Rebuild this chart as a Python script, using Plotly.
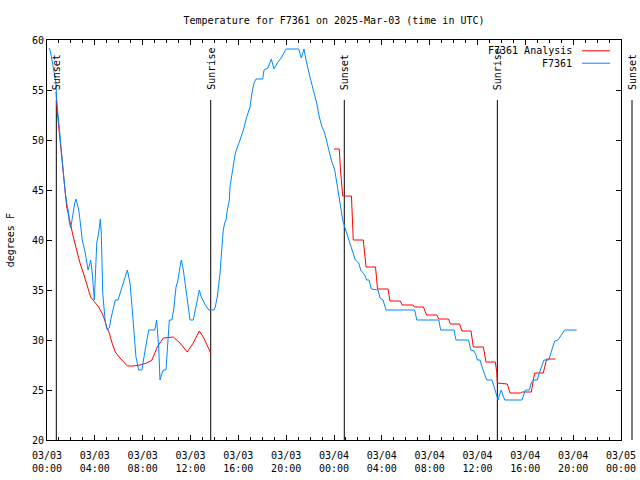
import pandas as pd
import plotly.graph_objects as go

# ---- data (hours after 2025-03-03 00:00 UTC, degrees F) ----
obs_hours = [0.17, 0.25, 0.42, 0.59, 0.75, 0.81, 0.98, 1.09, 1.20, 1.31, 1.42, 1.53, 1.65, 1.81, 1.86, 1.98,
             2.09, 2.20, 2.32, 2.43, 2.53, 2.65, 2.76, 2.87, 2.95, 3.20, 3.43, 3.49, 3.65, 3.76, 3.87, 3.96,
             4.16, 4.32, 4.46, 4.54, 4.66, 4.77, 4.88, 5.04, 5.21, 5.38, 5.54, 5.71, 5.94, 6.10, 6.38, 6.72,
             6.94, 7.11, 7.28, 7.44, 7.67, 7.94, 8.11, 8.28, 8.50, 9.01, 9.17, 9.34, 9.45, 9.62, 9.73, 9.95,
             10.06, 10.23, 10.45, 10.62, 10.79, 10.95, 11.12, 11.23, 11.40, 11.57, 11.79, 11.96, 12.23, 12.40,
             12.57, 12.74, 12.90, 13.07, 13.24, 13.41, 13.52, 13.97, 14.07, 14.24, 14.36, 14.47, 14.53, 14.63,
             14.74, 14.86, 14.97, 15.08, 15.25, 15.30, 15.58, 15.75, 16.14, 16.42, 16.70, 16.98, 17.14, 17.31,
             17.48, 18.04, 18.15, 18.48, 18.76, 18.98, 19.26, 19.63, 19.99, 21.05, 21.27, 21.49, 21.66, 21.83,
             21.99, 22.27, 22.55, 22.77, 23.00, 23.22, 23.50, 23.77, 24.06, 24.23, 24.39, 24.56, 24.73, 24.90,
             25.06, 25.34, 25.56, 25.78, 26.07, 26.23, 26.57, 26.73, 26.93, 27.12, 27.68, 27.85, 28.10, 28.35,
             30.75, 30.92, 32.76, 32.92, 34.04, 34.20, 35.26, 35.43, 35.71, 35.88, 35.98, 36.21, 36.38, 36.54,
             36.77, 37.21, 37.38, 37.61, 37.72, 37.83, 37.99, 38.11, 38.28, 39.72, 39.89, 40.00, 40.33, 40.50,
             40.67, 41.00, 41.17, 41.40, 41.56, 41.96, 42.12, 42.29, 42.46, 42.73, 42.90, 43.13, 43.29, 44.30]
obs_temps = [59.2, 59.0, 58.0, 56.7, 55.7, 54.0, 51.7, 50.0, 48.7, 47.0, 46.0, 44.7, 43.7, 42.7, 41.8, 41.2,
             42.0, 43.0, 43.7, 44.1, 43.7, 43.0, 42.0, 41.0, 40.0, 38.7, 37.0, 37.2, 38.0, 37.0, 35.0, 34.0,
             39.7, 40.7, 42.1, 40.7, 34.7, 33.0, 31.7, 31.0, 31.2, 32.3, 33.3, 34.0, 34.0, 34.7, 35.7, 37.0,
             35.7, 33.3, 30.7, 28.3, 27.0, 27.0, 28.3, 29.7, 31.0, 31.0, 32.0, 29.3, 26.0, 26.7, 27.0, 27.0,
             29.3, 32.0, 32.0, 33.3, 35.3, 36.0, 37.3, 38.0, 37.0, 35.3, 33.3, 32.0, 32.0, 33.0,
             34.2, 35.0, 34.3, 33.8, 33.5, 33.2, 33.0, 33.0, 33.3, 34.3, 35.3, 36.7, 37.7, 39.0,
             41.0, 41.7, 42.0, 43.0, 44.0, 45.3, 47.3, 48.7, 50.0, 51.0, 52.3, 53.3, 54.7, 55.7,
             56.1, 56.1, 57.0, 57.2, 58.1, 57.1, 57.7, 58.3, 59.1, 59.1, 58.2, 59.1, 58.0, 57.0,
             56.3, 55.0, 53.7, 52.3, 51.3, 50.7, 49.3, 48.0, 47.0, 45.7, 44.3, 43.0, 42.0, 41.3,
             40.7, 39.7, 38.7, 38.0, 37.7, 37.0, 36.5, 36.0, 36.0, 35.1, 35.0, 34.2, 34.0, 33.0,
             33.0, 32.0, 32.0, 31.0, 31.0, 30.0, 30.0, 29.0, 28.9, 28.5, 28.0, 28.0, 27.3, 26.7,
             26.0, 26.0, 25.3, 24.5, 24.0, 24.5, 25.0, 24.5, 24.0, 24.0, 24.7, 25.0, 25.0, 25.7,
             26.0, 26.0, 26.7, 27.5, 28.0, 28.0, 28.7, 29.3, 29.9, 30.0, 30.3, 30.8, 31.0, 31.0]

ana1_hours = [0.75, 0.86, 1.20, 1.36, 1.48, 1.65, 1.92, 2.20, 2.48, 2.76, 3.04, 3.32, 3.65, 3.99, 4.32, 4.60,
              4.83, 4.99, 5.21, 5.44, 5.71, 6.10, 6.44, 6.72, 7.17, 7.78, 8.34, 8.78, 9.22, 9.73, 10.56, 11.12,
              11.73, 12.23, 12.74, 13.07, 13.69]
ana1_temps = [54.8, 52.8, 48.7, 46.3, 45.3, 43.3, 41.7, 40.3, 39.0, 37.7, 36.7, 35.7, 34.3, 33.8, 33.3, 32.7,
              32.0, 31.3, 30.7, 29.7, 28.8, 28.2, 27.7, 27.4, 27.4, 27.5, 27.7, 28.0, 29.3, 30.2, 30.3, 29.7,
              28.8, 29.7, 30.9, 30.3, 28.7]
ana2_hours = [24.00, 24.44, 24.56, 24.73, 25.46, 25.61, 26.45, 26.68, 27.47, 27.64, 28.52, 28.68, 29.56, 29.69,
              30.61, 30.73, 31.48, 31.74, 32.59, 32.76, 33.58, 33.73, 34.50, 34.70, 35.46, 35.65, 36.49, 36.71,
              37.49, 37.61, 37.66, 38.49, 38.72, 39.61, 39.72, 40.50, 40.67, 40.78, 41.50, 41.62, 41.78, 42.50]
ana2_temps = [49.1, 49.1, 46.7, 44.4, 44.4, 40.0, 40.0, 37.3, 37.3, 35.1, 35.1, 33.9, 33.9, 33.5,
              33.5, 33.3, 33.3, 32.5, 32.5, 32.1, 32.1, 31.6, 31.6, 30.9, 30.9, 29.3, 29.3, 27.8,
              27.8, 26.8, 25.7, 25.6, 24.7, 24.7, 24.8, 24.8, 26.0, 26.7, 26.7, 27.4, 28.1, 28.1]

sun_labels = ["Sunset", "Sunrise", "Sunset", "Sunrise", "Sunset"]
sun_hours = [0.78, 13.69, 24.86, 37.66, 48.92]

series_names = ["F7361 Analysis", "F7361"]
series_colors = ["#ff0000", "#0088ff"]

title_text = "Temperature for F7361 on 2025-Mar-03 (time in UTC)"
y_label = "degrees F"

# ---- build ----
base = pd.Timestamp("2025-03-03 00:00")
span_h = 48.0
end = base + pd.Timedelta(hours=span_h)


def to_time(hours):
    return [base + pd.Timedelta(hours=h) for h in hours]


ana_x = to_time(ana1_hours) + [None] + to_time(ana2_hours)
ana_y = ana1_temps + [None] + ana2_temps

FONT = "DejaVu Sans Mono"
fig = go.Figure()
fig.add_trace(go.Scatter(x=ana_x, y=ana_y, mode="lines", name=series_names[0],
                         line=dict(color=series_colors[0], width=1), connectgaps=False,
                         showlegend=False, hoverinfo="skip"))
fig.add_trace(go.Scatter(x=to_time(obs_hours), y=obs_temps, mode="lines", name=series_names[1],
                         line=dict(color=series_colors[1], width=1), showlegend=False,
                         hoverinfo="skip"))

# sunrise / sunset markers
for lab, h in zip(sun_labels, sun_hours):
    px = h / span_h
    fig.add_shape(type="line", xref="paper", yref="paper", x0=px, x1=px, y0=0, y1=0.85,
                  line=dict(color="black", width=1), layer="below")
    fig.add_annotation(xref="paper", yref="paper", x=px, y=0.87, text=lab, textangle=-90,
                       showarrow=False, xanchor="center", yanchor="bottom",
                       font=dict(family=FONT, size=10, color="black"))

# gnuplot-style legend (text right, sample line after)
leg_y = [0.973, 0.942]
for name, col, ly in zip(series_names, series_colors, leg_y):
    fig.add_annotation(xref="paper", yref="paper", x=0.918, y=ly, text=name, showarrow=False,
                       xanchor="right", yanchor="middle", font=dict(family=FONT, size=10, color="black"))
    fig.add_shape(type="line", xref="paper", yref="paper", x0=0.932, x1=0.981, y0=ly, y1=ly,
                  line=dict(color=col, width=1))

# y-axis label
fig.add_annotation(xref="paper", yref="paper", x=-0.064, y=0.5, text=y_label, textangle=-90,
                   showarrow=False, xanchor="center", yanchor="middle",
                   font=dict(family=FONT, size=10, color="black"))

tickvals = pd.date_range(base, end, freq="4h")
ticktext = [t.strftime("%m/%d<br>%H:%M") for t in tickvals]
minorvals = pd.date_range(base, end, freq="1h")

fig.update_layout(
    width=640, height=480,
    margin=dict(l=47, r=19, t=40, b=40, autoexpand=False),
    paper_bgcolor="white", plot_bgcolor="white",
    font=dict(family=FONT, size=10, color="black"),
    title=dict(text=title_text, x=0.5, xref="paper", xanchor="center", y=0.958, yanchor="middle",
               font=dict(family=FONT, size=10, color="black")),
    showlegend=False,
    hovermode=False,
)
fig.update_xaxes(type="date", range=[base, end], tickmode="array", tickvals=list(tickvals),
                 ticktext=ticktext, ticks="inside", ticklen=5, tickcolor="black",
                 showline=True, linecolor="black", linewidth=1, mirror="ticks",
                 showgrid=False, zeroline=False, automargin=False, ticklabelstandoff=6,
                 minor=dict(tickmode="array", tickvals=list(minorvals), ticks="inside", ticklen=3,
                            tickcolor="black", showgrid=False))
fig.update_yaxes(range=[20, 60], dtick=5, tick0=20, ticks="inside", ticklen=5, tickcolor="black",
                 showline=True, linecolor="black", linewidth=1, mirror="ticks",
                 showgrid=False, zeroline=False, automargin=False)

fig.write_html("out.html", config={"displayModeBar": False},
               post_script="document.body.style.margin='0';document.body.style.overflow='hidden';")
